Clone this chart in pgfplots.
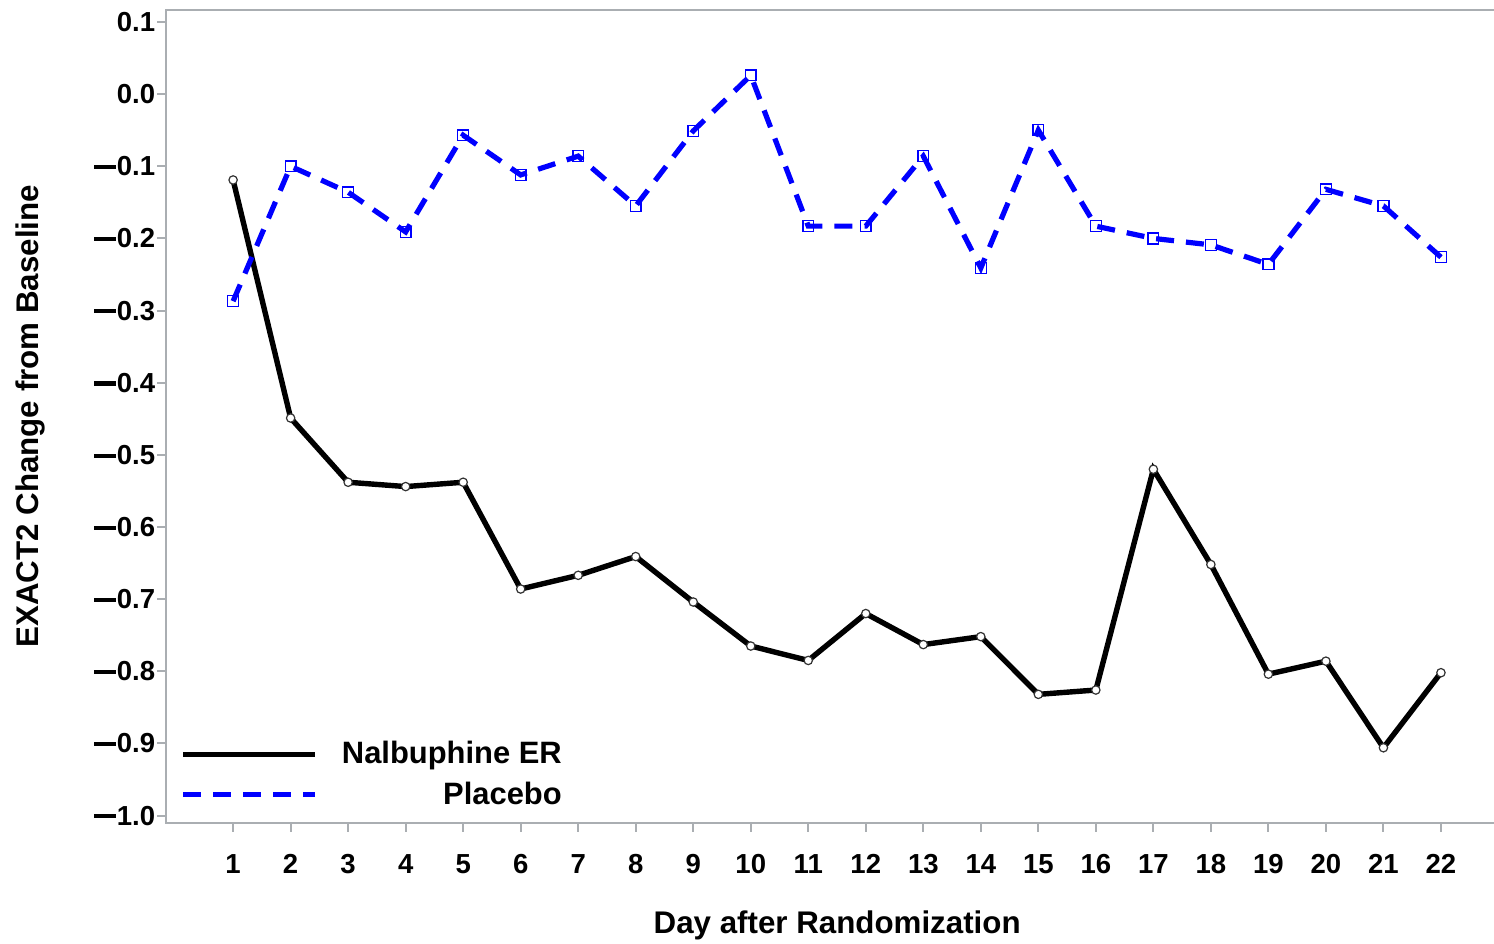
\documentclass[border=0pt]{standalone}
\usepackage{pgfplots}
\pgfplotsset{compat=1.18}
\usepackage{fontspec}
\setmainfont{Liberation Sans}
\definecolor{axgray}{RGB}{170,174,178}
\newcommand\mn{\rule[0.24em]{0.78em}{0.15em}\hspace{0.04em}}
\begin{document}
\begin{tikzpicture}
\path[use as bounding box] (-83bp,-60.5bp) rectangle (663.5bp,411bp);
\begin{axis}[name=ax, scale only axis, width=664bp, height=406bp,
  xmin=-0.165, xmax=22.94, ymin=-1.0097, ymax=0.1166,
  xtick={1,...,22},
  ytick={-1.0,-0.9,-0.8,-0.7,-0.6,-0.5,-0.4,-0.3,-0.2,-0.1,0.0,0.1},
  yticklabels={\mn1.0,\mn0.9,\mn0.8,\mn0.7,\mn0.6,\mn0.5,\mn0.4,\mn0.3,\mn0.2,\mn0.1,0.0,0.1},
  xticklabels={1,2,3,4,5,6,7,8,9,10,11,12,13,14,15,16,17,18,19,20,21,22},
  axis line style={axgray, line width=1bp},
  tick style={axgray, line width=1bp},
  major tick length=4.5bp,
  tick align=outside, xtick pos=bottom, ytick pos=left,
  ticklabel style={font=\fontsize{13.8}{16}\selectfont\bfseries, text=black},
  xticklabel style={yshift=-8bp},
  yticklabel style={xshift=2.5bp},
  xlabel={Day after Randomization},
  ylabel={EXACT2 Change from Baseline},
  label style={font=\fontsize{15.7}{18}\selectfont\bfseries},
  xlabel style={at={(axis description cs:0.505,-0.127)}, anchor=center},
  ylabel style={at={(axis description cs:-0.1024,0.5)}, anchor=center},
  legend style={at={(0.006,0.11)}, anchor=north west, draw=none, fill=none,
    font=\fontsize{15.5}{18}\selectfont\bfseries, row sep=3.5bp, column sep=10bp},
  legend cell align=right,
  legend image code/.code={\draw[#1] (0bp,0bp) -- (66bp,0bp);},
]
\addplot[black, line width=2.7bp, mark=*, mark size=2.1bp,
  mark options={fill=white, draw=black!80, line width=0.6bp, solid}]
  coordinates {
  (1,-0.119) (2,-0.449) (3,-0.538) (4,-0.544) (5,-0.538) (6,-0.686)
  (7,-0.667) (8,-0.641) (9,-0.704) (10,-0.765) (11,-0.785) (12,-0.720)
  (13,-0.763) (14,-0.752) (15,-0.832) (16,-0.826) (17,-0.520) (18,-0.652)
  (19,-0.804) (20,-0.786) (21,-0.906) (22,-0.802)};
\addlegendentry{Nalbuphine ER}
\addplot[blue, line width=2.6bp, dash pattern=on 9bp off 6bp, mark=square, mark size=2.7bp,
  mark options={draw=blue, fill=white, line width=0.7bp, solid}]
  coordinates {
  (1,-0.287) (2,-0.100) (3,-0.136) (4,-0.191) (5,-0.057) (6,-0.112)
  (7,-0.086) (8,-0.155) (9,-0.051) (10,0.026) (11,-0.183) (12,-0.183)
  (13,-0.086) (14,-0.241) (15,-0.050) (16,-0.183) (17,-0.200) (18,-0.209)
  (19,-0.236) (20,-0.132) (21,-0.155) (22,-0.226)};
\addlegendentry{Placebo}
\end{axis}
\end{tikzpicture}
\end{document}
